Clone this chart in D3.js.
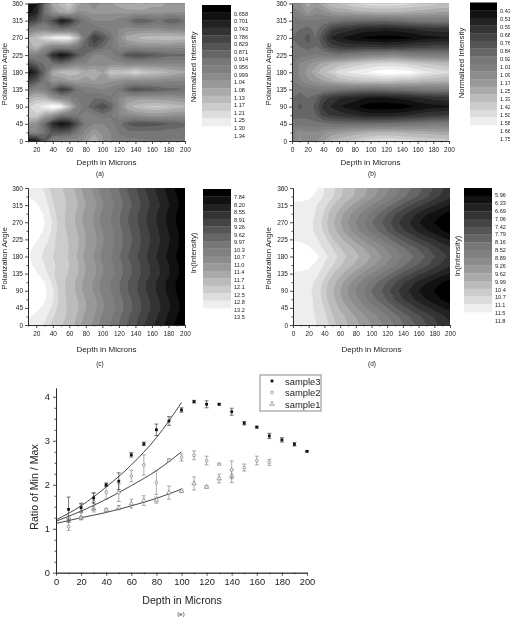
<!DOCTYPE html>
<html>
<head>
<meta charset="utf-8">
<script src="https://cdn.jsdelivr.net/npm/d3@7"></script>
<style>
  html, body { margin: 0; padding: 0; background: #fff; }
  svg { display: block; filter: blur(0.4px); }
  text { font-family: "Liberation Sans", Arial, sans-serif; fill: #222; }
  .axis path, .axis line { stroke: #222; stroke-width: 0.8; }
  .axis text { font-size: 6.5px; }
  .lower.axis text { font-size: 9.3px; }
</style>
</head>
<body>
<svg id="chart" width="510" height="621"></svg>
<script>
// rows are polarization angle 0..360, columns are depth
const angles = [0, 22.5, 45, 67.5, 90, 112.5, 135, 157.5, 180, 202.5, 225, 247.5, 270, 292.5, 315, 337.5, 360];
const depthsFrom10 = [10, 20, 30, 40, 50, 60, 70, 80, 90, 100, 110, 120, 130, 140, 150, 160, 170, 180, 190, 200];
const depthsFrom0 = [0, ...depthsFrom10];

const gridA = [
  [.66,.70,.85,1.0,1.02,1.04,1.02,1.06,1.13,1.05,1.0,.99,.97,.97,.96,.96,.95,.96,.96,.96],
  [.98,1.0,.93,.85,.85,.87,.95,1.02,1.07,1.03,1.0,.95,.93,.93,.93,.93,.93,.94,.94,.94],
  [1.05,1.03,.9,.74,.68,.72,.84,.96,1.0,1.0,.98,.93,.87,.84,.84,.85,.86,.87,.88,.9],
  [1.2,1.2,1.1,1.05,.95,.95,.95,.98,.96,.93,.95,1.0,1.02,1.03,1.04,1.05,1.05,1.04,1.03,1.03],
  [1.2,1.24,1.28,1.34,1.3,1.15,1.0,.93,.87,.82,.88,1.0,1.1,1.15,1.17,1.18,1.18,1.17,1.15,1.14],
  [1.1,1.15,1.13,1.05,1.0,1.0,.95,.93,.92,.92,.95,1.0,1.05,1.05,1.06,1.06,1.05,1.05,1.04,1.03],
  [.95,1.0,.98,.88,.78,.82,.93,.97,.98,1.0,.98,.95,.87,.83,.85,.86,.88,.9,.9,.92],
  [.8,.85,.95,1.05,1.03,1.07,1.08,1.06,1.08,1.06,1.05,1.04,1.02,1.02,1.02,1.02,1.01,1.0,1.0,1.0],
  [.66,.75,.9,1.1,1.15,1.17,1.15,1.1,1.12,1.08,1.18,1.17,1.18,1.22,1.18,1.17,1.15,1.13,1.1,1.09],
  [.82,.88,.92,.92,.9,.95,1.0,1.0,1.02,1.02,1.02,1.02,1.0,1.0,1.0,1.0,1.0,1.0,1.0,1.0],
  [.98,.98,.92,.75,.68,.73,.85,.92,1.0,1.0,.98,.93,.85,.83,.84,.86,.88,.9,.9,.9],
  [1.1,1.15,1.05,1.0,1.0,1.0,.95,.88,.85,.9,.95,1.0,1.02,1.02,1.03,1.03,1.03,1.03,1.02,1.02],
  [1.13,1.17,1.23,1.27,1.3,1.28,1.15,.92,.78,.84,.92,1.02,1.1,1.13,1.15,1.16,1.16,1.17,1.16,1.15],
  [.95,1.0,1.0,.95,.93,.95,.95,.92,.92,.95,.98,1.0,1.02,1.02,1.02,1.02,1.02,1.0,1.0,1.0],
  [.78,.82,.9,.83,.7,.75,.88,.95,1.0,1.0,1.0,.98,.95,.87,.87,.9,.92,.87,.88,.92],
  [.68,.72,.92,1.03,1.1,1.12,1.03,1.04,1.05,1.05,1.05,1.05,1.06,1.06,1.06,1.05,1.05,1.04,1.04,1.04],
  [.66,.7,.9,1.1,1.15,1.2,1.1,1.05,1.02,1.05,1.07,1.1,1.12,1.13,1.13,1.1,1.1,1.07,1.07,1.07],
];

const gridB = [
  [1.05,1.2,1.1,1.15,1.25,1.35,1.38,1.42,1.45,1.5,1.55,1.58,1.58,1.58,1.55,1.55,1.5,1.5,1.48,1.47,1.45],
  [1.05,1.15,1.1,1.1,1.15,1.2,1.22,1.25,1.28,1.3,1.32,1.33,1.33,1.33,1.32,1.3,1.3,1.3,1.28,1.27,1.27],
  [.95,.98,.98,.95,.95,.93,.92,.92,.92,.92,.92,.92,.93,.95,.95,.97,.97,.98,1.0,1.0,1.0],
  [.9,.88,.88,.85,.72,.67,.65,.62,.6,.57,.55,.55,.55,.56,.58,.6,.62,.65,.67,.68,.7],
  [.92,.82,.88,.82,.65,.58,.52,.48,.45,.41,.38,.37,.37,.38,.38,.41,.44,.46,.48,.48,.5],
  [.92,.86,.92,.87,.72,.66,.6,.58,.55,.52,.5,.5,.5,.52,.53,.55,.58,.6,.62,.63,.65],
  [.95,.95,1.0,1.0,1.0,.98,.97,.95,.94,.92,.92,.92,.93,.95,.96,.97,.98,1.0,1.0,1.0,1.0],
  [1.0,1.08,1.15,1.2,1.25,1.3,1.35,1.38,1.4,1.42,1.42,1.42,1.45,1.42,1.4,1.4,1.38,1.35,1.35,1.33,1.32],
  [1.0,1.12,1.2,1.3,1.4,1.45,1.55,1.58,1.62,1.65,1.67,1.7,1.73,1.72,1.7,1.7,1.65,1.6,1.58,1.55,1.52],
  [1.0,1.1,1.15,1.22,1.28,1.33,1.37,1.4,1.45,1.47,1.5,1.52,1.52,1.52,1.5,1.47,1.45,1.42,1.4,1.38,1.38],
  [.95,.98,1.0,1.02,1.0,.98,.95,1.0,1.02,1.05,1.08,1.08,1.1,1.12,1.08,1.05,1.03,1.03,1.02,1.02,1.02],
  [.92,.92,.86,.92,.82,.72,.68,.65,.65,.65,.65,.65,.62,.65,.65,.68,.7,.7,.72,.72,.72],
  [.92,.9,.8,.92,.74,.58,.52,.48,.45,.42,.4,.39,.39,.39,.4,.42,.45,.47,.48,.5,.5],
  [.92,.92,.88,.95,.85,.72,.65,.63,.6,.56,.55,.55,.53,.55,.56,.58,.6,.62,.63,.63,.64],
  [.95,1.0,1.0,1.0,.98,.95,.95,.92,.92,.9,.9,.9,.9,.92,.93,.95,.97,.97,.98,.98,.98],
  [1.05,1.1,1.2,1.12,1.15,1.22,1.25,1.25,1.3,1.3,1.32,1.33,1.33,1.33,1.32,1.3,1.28,1.28,1.27,1.25,1.25],
  [1.1,1.15,1.3,1.2,1.3,1.4,1.42,1.45,1.5,1.52,1.55,1.55,1.55,1.55,1.55,1.52,1.5,1.48,1.45,1.42,1.42],
];

const gridC = [
  [13.05,12.95,12.75,12.35,12.15,11.9,11.55,11.2,10.9,10.55,10.25,9.95,9.6,9.3,8.95,8.65,8.35,8.05,7.75,7.4],
  [13.25,13.1,12.9,12.55,12.25,12.0,11.65,11.3,11.0,10.65,10.35,10.05,9.7,9.4,9.05,8.75,8.45,8.15,7.85,7.5],
  [13.45,13.3,13.1,12.7,12.3,12.0,11.75,11.42,11.12,10.77,10.47,10.17,9.82,9.52,9.17,8.87,8.57,8.27,7.97,7.62],
  [13.7,13.5,13.25,12.85,12.35,11.95,11.7,11.38,11.08,10.73,10.42,10.12,9.77,9.47,9.12,8.82,8.52,8.22,7.92,7.57],
  [13.8,13.6,13.3,12.85,12.3,11.9,11.6,11.25,10.95,10.6,10.3,10.0,9.65,9.35,9.0,8.7,8.4,8.1,7.8,7.45],
  [13.6,13.45,13.2,12.7,12.25,11.95,11.6,11.25,10.95,10.6,10.3,10.0,9.65,9.35,9.0,8.7,8.4,8.1,7.8,7.45],
  [13.4,13.25,12.95,12.55,12.3,12.05,11.72,11.38,11.08,10.74,10.44,10.14,9.8,9.5,9.15,8.85,8.55,8.25,7.95,7.6],
  [13.3,13.1,12.8,12.55,12.4,12.1,11.75,11.38,11.08,10.72,10.42,10.12,9.77,9.47,9.12,8.82,8.52,8.22,7.92,7.57],
  [13.25,13.0,12.7,12.5,12.35,12.05,11.65,11.27,10.97,10.6,10.3,10.0,9.65,9.35,9.0,8.7,8.4,8.1,7.8,7.45],
  [13.3,13.1,12.8,12.55,12.38,12.08,11.72,11.36,11.06,10.7,10.4,10.1,9.75,9.45,9.1,8.8,8.5,8.2,7.9,7.55],
  [13.4,13.25,13.0,12.6,12.3,12.05,11.75,11.4,11.1,10.75,10.45,10.15,9.8,9.5,9.15,8.85,8.55,8.25,7.95,7.6],
  [13.6,13.4,13.15,12.7,12.3,11.98,11.68,11.35,11.05,10.7,10.4,10.1,9.75,9.45,9.1,8.8,8.5,8.2,7.9,7.55],
  [13.7,13.5,13.2,12.75,12.28,11.9,11.6,11.25,10.95,10.6,10.3,10.0,9.65,9.35,9.0,8.7,8.4,8.1,7.8,7.45],
  [13.55,13.4,13.15,12.65,12.25,11.95,11.62,11.28,10.98,10.63,10.33,10.03,9.68,9.38,9.03,8.73,8.43,8.13,7.83,7.48],
  [13.4,13.25,13.0,12.55,12.25,12.02,11.72,11.4,11.1,10.75,10.45,10.15,9.8,9.5,9.15,8.85,8.55,8.25,7.95,7.6],
  [13.2,13.05,12.85,12.45,12.2,11.98,11.65,11.3,11.0,10.65,10.35,10.05,9.7,9.4,9.05,8.75,8.45,8.15,7.85,7.5],
  [13.05,12.95,12.75,12.35,12.15,11.9,11.55,11.2,10.9,10.55,10.25,9.95,9.6,9.3,8.95,8.65,8.35,8.05,7.75,7.4],
];

const gridD = [
  [11.35,11.35,11.3,11.1,10.85,10.55,10.25,10.0,9.75,9.5,9.25,9.0,8.75,8.5,8.2,7.95,7.7,7.45,7.2,6.95,6.75],
  [11.35,11.3,11.3,11.05,10.8,10.45,10.15,9.88,9.6,9.35,9.08,8.83,8.57,8.3,8.0,7.75,7.5,7.25,7.02,6.77,6.58],
  [11.33,11.28,11.25,11.0,10.67,10.3,9.93,9.6,9.3,9.0,8.7,8.44,8.15,7.85,7.54,7.28,7.0,6.78,6.57,6.35,6.18],
  [11.3,11.22,11.25,10.95,10.55,10.12,9.72,9.35,9.0,8.68,8.32,8.05,7.75,7.4,7.08,6.82,6.55,6.32,6.13,5.93,5.77],
  [11.3,11.2,11.2,10.9,10.5,10.05,9.62,9.22,8.85,8.52,8.16,7.88,7.55,7.2,6.88,6.62,6.33,6.12,5.94,5.75,5.6],
  [11.35,11.25,11.3,11.0,10.6,10.18,9.77,9.39,9.04,8.72,8.38,8.1,7.78,7.44,7.13,6.87,6.58,6.36,6.17,5.97,5.81],
  [11.4,11.4,11.4,11.2,10.85,10.45,10.1,9.78,9.47,9.18,8.88,8.6,8.3,8.0,7.7,7.43,7.16,6.93,6.7,6.47,6.3],
  [11.8,11.75,11.6,11.4,11.05,10.75,10.45,10.17,9.9,9.65,9.38,9.13,8.82,8.56,8.25,8.0,7.75,7.5,7.2,6.98,6.79],
  [12.0,11.95,11.8,11.6,11.25,10.9,10.6,10.35,10.1,9.85,9.6,9.35,9.05,8.8,8.5,8.25,8.0,7.75,7.45,7.2,7.0],
  [11.7,11.7,11.55,11.35,11.0,10.7,10.42,10.15,9.88,9.62,9.36,9.1,8.8,8.53,8.22,7.97,7.72,7.47,7.17,6.95,6.76],
  [11.45,11.4,11.35,11.15,10.85,10.45,10.1,9.78,9.47,9.18,8.88,8.6,8.3,8.0,7.7,7.43,7.16,6.93,6.7,6.47,6.3],
  [11.35,11.3,11.25,11.0,10.6,10.18,9.77,9.39,9.04,8.72,8.38,8.1,7.78,7.44,7.13,6.87,6.58,6.36,6.17,5.97,5.81],
  [11.3,11.3,11.25,10.95,10.55,10.1,9.65,9.25,8.88,8.55,8.18,7.9,7.57,7.22,6.9,6.64,6.35,6.14,5.95,5.76,5.62],
  [11.3,11.3,11.3,11.05,10.65,10.2,9.8,9.4,9.05,8.75,8.4,8.12,7.8,7.46,7.15,6.9,6.6,6.38,6.2,6.0,5.83],
  [11.35,11.35,11.3,11.1,10.8,10.45,10.1,9.78,9.47,9.18,8.88,8.6,8.3,8.0,7.7,7.43,7.16,6.93,6.7,6.47,6.3],
  [11.7,11.7,11.6,11.4,11.05,10.75,10.45,10.17,9.9,9.65,9.38,9.13,8.82,8.56,8.25,8.0,7.75,7.5,7.2,6.98,6.79],
  [12.0,11.95,11.8,11.55,11.1,10.8,10.5,10.25,10.0,9.75,9.5,9.25,8.98,8.72,8.42,8.17,7.92,7.67,7.37,7.12,6.92],
];

// contour levels as printed beside each colour bar
const levelsA = ["0.658","0.701","0.743","0.786","0.829","0.871","0.914","0.956","0.999","1.04","1.08","1.13","1.17","1.21","1.25","1.30","1.34"];
const levelsB = ["0.43","0.51","0.59","0.68","0.76","0.84","0.92","1.01","1.09","1.17","1.25","1.33","1.42","1.50","1.58","1.66","1.75"];
const levelsC = ["7.84","8.20","8.55","8.91","9.26","9.62","9.97","10.3","10.7","11.0","11.4","11.7","12.1","12.5","12.8","13.2","13.5"];
const levelsD = ["5.96","6.33","6.69","7.06","7.42","7.79","8.16","8.52","8.89","9.26","9.62","9.99","10.4","10.7","11.1","11.5","11.8"];

const bandGrays = ["#000","#111","#222","#333","#444","#555","#666","#777","#808080","#8c8c8c","#999","#aaa","#bbb","#ccc","#ddd","#eee"];

// ratio plot
const ratioDepths = [10,20,30,40,50,60,70,80,90,100,110,120,130,140,150,160,170,180,190,200];
const sample3 = [1.44,1.48,1.70,2.0,2.08,2.68,2.93,3.25,3.45,3.70,3.89,3.83,3.83,3.66,3.40,3.31,3.11,3.02,2.92,2.76];
const sample3Err = [.28,.1,.12,.04,.19,.05,.04,.13,.1,.05,.03,.08,.02,.08,.04,.02,.06,.05,.04,.01];
const sample2 = [1.05,1.38,1.62,1.83,1.82,2.2,2.45,2.05,2.56,2.62,2.67,2.55,2.47,2.34,2.39,2.55,2.51];
const sample2Err = [.09,.18,.18,.16,.2,.13,.23,.27,.03,.08,.1,.1,.02,.2,.08,.1,.07];
const sample1 = [1.25,1.25,1.45,1.43,1.48,1.57,1.64,1.65,1.82,1.86,2.03,1.95,2.14,2.2];
const sample1Err = [.04,.03,.07,.03,.05,.1,.11,.07,.15,.04,.15,.03,.1,.15];
const fitDepths = [0,20,40,60,80,100];
const fit3 = [1.2,1.52,1.95,2.45,3.07,3.87];
const fit2 = [1.17,1.40,1.67,1.98,2.32,2.75];
const fit1 = [1.12,1.25,1.37,1.52,1.69,1.9];
const legendNames = ["sample3","sample2","sample1"];

const panels = [
  { grid: gridA, depths: depthsFrom10, levels: levelsA, left: 28, right: 185, top: 3.5, bottom: 141,
    ticks: [20,40,60,80,100,120,140,160,180,200], minor: [10,30,50,70,90,110,130,150,170,190],
    barLeft: 202, barRight: 231, barTop: 5, barBottom: 126, labelFirst: 13.7, labelLast: 135.7,
    barTitle: "Normalized Intensity", barTitleX: 196, barTitleY: 67, leftTitleX: 7, tag: "(a)", tagX: 100, titleY: 164.5, tagY: 176 },
  { grid: gridB, depths: depthsFrom0, levels: levelsB, left: 292, right: 449, top: 3.5, bottom: 141,
    ticks: [0,20,40,60,80,100,120,140,160,180,200], minor: [10,30,50,70,90,110,130,150,170,190],
    barLeft: 470, barRight: 497, barTop: 2.5, barBottom: 125, labelFirst: 10.5, labelLast: 139,
    barTitle: "Normalized Intensity", barTitleX: 464, barTitleY: 63, leftTitleX: 271, tag: "(b)", tagX: 372, titleY: 164.5, tagY: 176 },
  { grid: gridC, depths: depthsFrom10, levels: levelsC, left: 28, right: 185, top: 188, bottom: 325,
    ticks: [20,40,60,80,100,120,140,160,180,200], minor: [10,30,50,70,90,110,130,150,170,190],
    barLeft: 203, barRight: 231, barTop: 189, barBottom: 308, labelFirst: 197, labelLast: 317,
    barTitle: "In(Intensity)", barTitleX: 196, barTitleY: 253, leftTitleX: 7, tag: "(c)", tagX: 100, titleY: 352, tagY: 366 },
  { grid: gridD, depths: depthsFrom0, levels: levelsD, left: 293, right: 450, top: 188, bottom: 325,
    ticks: [0,20,40,60,80,100,120,140,160,180,200], minor: [10,30,50,70,90,110,130,150,170,190],
    barLeft: 464, barRight: 492, barTop: 188, barBottom: 312, labelFirst: 195, labelLast: 321,
    barTitle: "In(Intensity)", barTitleX: 460, barTitleY: 256, leftTitleX: 271, tag: "(d)", tagX: 372, titleY: 352, tagY: 366 },
];

const svg = d3.select("#chart");

panels.forEach((p, n) => drawContourPanel(p, n));
drawRatioPlot();

function drawContourPanel(p, n) {
  const d0 = p.depths[0];
  const step = p.depths[1] - p.depths[0];
  const xScale = d3.scaleLinear().domain([d0, 200]).range([p.left, p.right]);
  const yScale = d3.scaleLinear().domain([0, 360]).range([p.bottom, p.top]);

  const g = svg.append("g").attr("class", "panel");

  const clipId = "clip-" + n;
  g.append("clipPath")
    .attr("id", clipId)
    .append("rect")
    .attr("x", p.left)
    .attr("y", p.top)
    .attr("width", p.right - p.left)
    .attr("height", p.bottom - p.top);

  const plot = g.append("g").attr("clip-path", `url(#${clipId})`);

  // anything under the first level is black
  plot.append("rect")
    .attr("x", p.left)
    .attr("y", p.top)
    .attr("width", p.right - p.left)
    .attr("height", p.bottom - p.top)
    .attr("fill", bandGrays[0]);

  const thresholds = p.levels.slice(0, 16).map(Number);
  const fills = [...bandGrays.slice(1), "#fff"];
  const rows = p.grid.length;
  const cols = p.grid[0].length;

  const contours = d3.contours()
    .size([cols, rows])
    .smooth(true)
    .thresholds(thresholds)(p.grid.flat());

  const path = d3.geoPath(
    d3.geoTransform({
      point(x, y) {
        this.stream.point(
          xScale(d0 + (x - 0.5) * step),
          yScale((y - 0.5) * 22.5)
        );
      },
    })
  );

  plot.selectAll("path")
    .data(contours)
    .join("path")
    .attr("d", path)
    .attr("fill", (d, i) => fills[i]);

  // axes
  g.append("g")
    .attr("class", "axis")
    .attr("transform", `translate(0,${p.bottom})`)
    .call(d3.axisBottom(xScale).tickValues(p.ticks).tickSize(3).tickSizeOuter(0).tickPadding(3));
  g.append("g")
    .attr("class", "axis")
    .attr("transform", `translate(0,${p.bottom})`)
    .call(d3.axisBottom(xScale).tickValues(p.minor).tickSize(1.5).tickSizeOuter(0).tickFormat(""));
  g.append("g")
    .attr("class", "axis")
    .attr("transform", `translate(${p.left},0)`)
    .call(d3.axisLeft(yScale).tickValues([0,45,90,135,180,225,270,315,360]).tickSize(3).tickSizeOuter(0).tickPadding(2));
  g.append("g")
    .attr("class", "axis")
    .attr("transform", `translate(${p.left},0)`)
    .call(d3.axisLeft(yScale).tickValues([22.5,67.5,112.5,157.5,202.5,247.5,292.5,337.5]).tickSize(1.5).tickSizeOuter(0).tickFormat(""));

  g.append("text")
    .attr("x", (p.left + p.right) / 2)
    .attr("y", p.titleY)
    .attr("text-anchor", "middle")
    .attr("font-size", 8)
    .text("Depth in Microns");
  g.append("text")
    .attr("x", p.tagX)
    .attr("y", p.tagY)
    .attr("text-anchor", "middle")
    .attr("font-size", 6.5)
    .text(p.tag);
  g.append("text")
    .attr("transform", `translate(${p.leftTitleX},${(p.top + p.bottom) / 2 + 2}) rotate(-90)`)
    .attr("text-anchor", "middle")
    .attr("font-size", 7.8)
    .text("Polarization Angle");

  // colour bar
  const barScale = d3.scaleLinear().domain([0, 16]).range([p.barTop, p.barBottom]);
  g.selectAll(".band")
    .data(bandGrays)
    .join("rect")
    .attr("class", "band")
    .attr("x", p.barLeft)
    .attr("width", p.barRight - p.barLeft)
    .attr("y", (d, i) => barScale(i))
    .attr("height", (d, i) => barScale(i + 1) - barScale(i) + 0.3)
    .attr("fill", (d) => d);

  const labelScale = d3.scaleLinear().domain([0, 16]).range([p.labelFirst, p.labelLast]);
  g.selectAll(".level")
    .data(p.levels)
    .join("text")
    .attr("class", "level")
    .attr("x", p.barRight + 3)
    .attr("y", (d, i) => labelScale(i) + 2)
    .attr("font-size", 5.6)
    .text((d) => d);

  g.append("text")
    .attr("transform", `translate(${p.barTitleX},${p.barTitleY}) rotate(-90)`)
    .attr("text-anchor", "middle")
    .attr("font-size", 7.8)
    .text(p.barTitle);
}

function drawRatioPlot() {
  const xScale = d3.scaleLinear().domain([0, 200]).range([56, 307]);
  const yScale = d3.scaleLinear().domain([0, 4.2]).range([572.7, 388]);
  const g = svg.append("g").attr("class", "ratio");

  const line = d3.line()
    .x((d) => xScale(d[0]))
    .y((d) => yScale(d[1]))
    .curve(d3.curveMonotoneX);

  [fit3, fit2, fit1].forEach((fit) => {
    g.append("path")
      .attr("d", line(fitDepths.map((x, i) => [x, fit[i]])))
      .attr("fill", "none")
      .attr("stroke", "#333")
      .attr("stroke-width", 0.9);
  });

  const series = [
    { values: sample1, errs: sample1Err, color: "#777", draw: triangle },
    { values: sample2, errs: sample2Err, color: "#777", draw: circle },
    { values: sample3, errs: sample3Err, color: "#222", draw: square },
  ];

  series.forEach((s) => {
    const rows = s.values.map((v, i) => ({ x: ratioDepths[i], y: v, e: s.errs[i] }));
    const marks = g.append("g");

    marks.selectAll(".err")
      .data(rows)
      .join("path")
      .attr("class", "err")
      .attr("d", (d) => {
        const x = xScale(d.x);
        const y0 = yScale(d.y - d.e);
        const y1 = yScale(d.y + d.e);
        return `M${x - 2},${y0}H${x + 2}M${x},${y0}V${y1}M${x - 2},${y1}H${x + 2}`;
      })
      .attr("fill", "none")
      .attr("stroke", s.color)
      .attr("stroke-width", 0.6);

    marks.selectAll(".pt")
      .data(rows)
      .join("g")
      .attr("class", "pt")
      .attr("transform", (d) => `translate(${xScale(d.x)},${yScale(d.y)})`)
      .each(function () {
        s.draw(d3.select(this));
      });
  });

  g.append("g")
    .attr("class", "lower axis")
    .attr("transform", "translate(0,572.7)")
    .call(d3.axisBottom(xScale).tickValues([0,20,40,60,80,100,120,140,160,180,200]).tickSize(3).tickSizeOuter(0).tickPadding(3));
  g.append("g")
    .attr("class", "axis")
    .attr("transform", "translate(0,572.7)")
    .call(d3.axisBottom(xScale).tickValues([10,30,50,70,90,110,130,150,170,190]).tickSize(1.5).tickSizeOuter(0).tickFormat(""));
  g.append("g")
    .attr("class", "lower axis")
    .attr("transform", "translate(56,0)")
    .call(d3.axisLeft(yScale).tickValues([0,1,2,3,4]).tickFormat(d3.format("d")).tickSize(3).tickSizeOuter(0).tickPadding(3));
  g.append("g")
    .attr("class", "axis")
    .attr("transform", "translate(56,0)")
    .call(d3.axisLeft(yScale).tickValues([.25,.5,.75,1.25,1.5,1.75,2.25,2.5,2.75,3.25,3.5,3.75]).tickSize(1.5).tickSizeOuter(0).tickFormat(""));

  g.append("text")
    .attr("x", 182)
    .attr("y", 604)
    .attr("text-anchor", "middle")
    .attr("font-size", 10.6)
    .text("Depth in Microns");
  g.append("text")
    .attr("x", 181)
    .attr("y", 616)
    .attr("text-anchor", "middle")
    .attr("font-size", 6)
    .text("(e)");
  g.append("text")
    .attr("transform", "translate(38,487) rotate(-90)")
    .attr("text-anchor", "middle")
    .attr("font-size", 10.6)
    .text("Ratio of Min / Max");

  // legend
  const legend = g.append("g");
  legend.append("rect")
    .attr("x", 260)
    .attr("y", 375)
    .attr("width", 61)
    .attr("height", 36)
    .attr("fill", "#fff")
    .attr("stroke", "#888")
    .attr("stroke-width", 1);
  const drawers = [square, circle, triangle];
  legendNames.forEach((name, i) => {
    const yy = 381 + i * 11.5;
    drawers[i](legend.append("g").attr("transform", `translate(272,${yy})`));
    legend.append("text")
      .attr("x", 285)
      .attr("y", yy + 3.5)
      .attr("font-size", 9.4)
      .text(name);
  });
}

function square(sel) {
  sel.append("rect").attr("x", -1.4).attr("y", -1.4).attr("width", 2.8).attr("height", 2.8).attr("fill", "#111");
}
function circle(sel) {
  sel.append("circle").attr("r", 1.4).attr("fill", "#fff").attr("stroke", "#666").attr("stroke-width", 0.6);
}
function triangle(sel) {
  sel.append("path").attr("d", d3.symbol(d3.symbolTriangle, 8)).attr("fill", "#fff").attr("stroke", "#666").attr("stroke-width", 0.6);
}
</script>
</body>
</html>
